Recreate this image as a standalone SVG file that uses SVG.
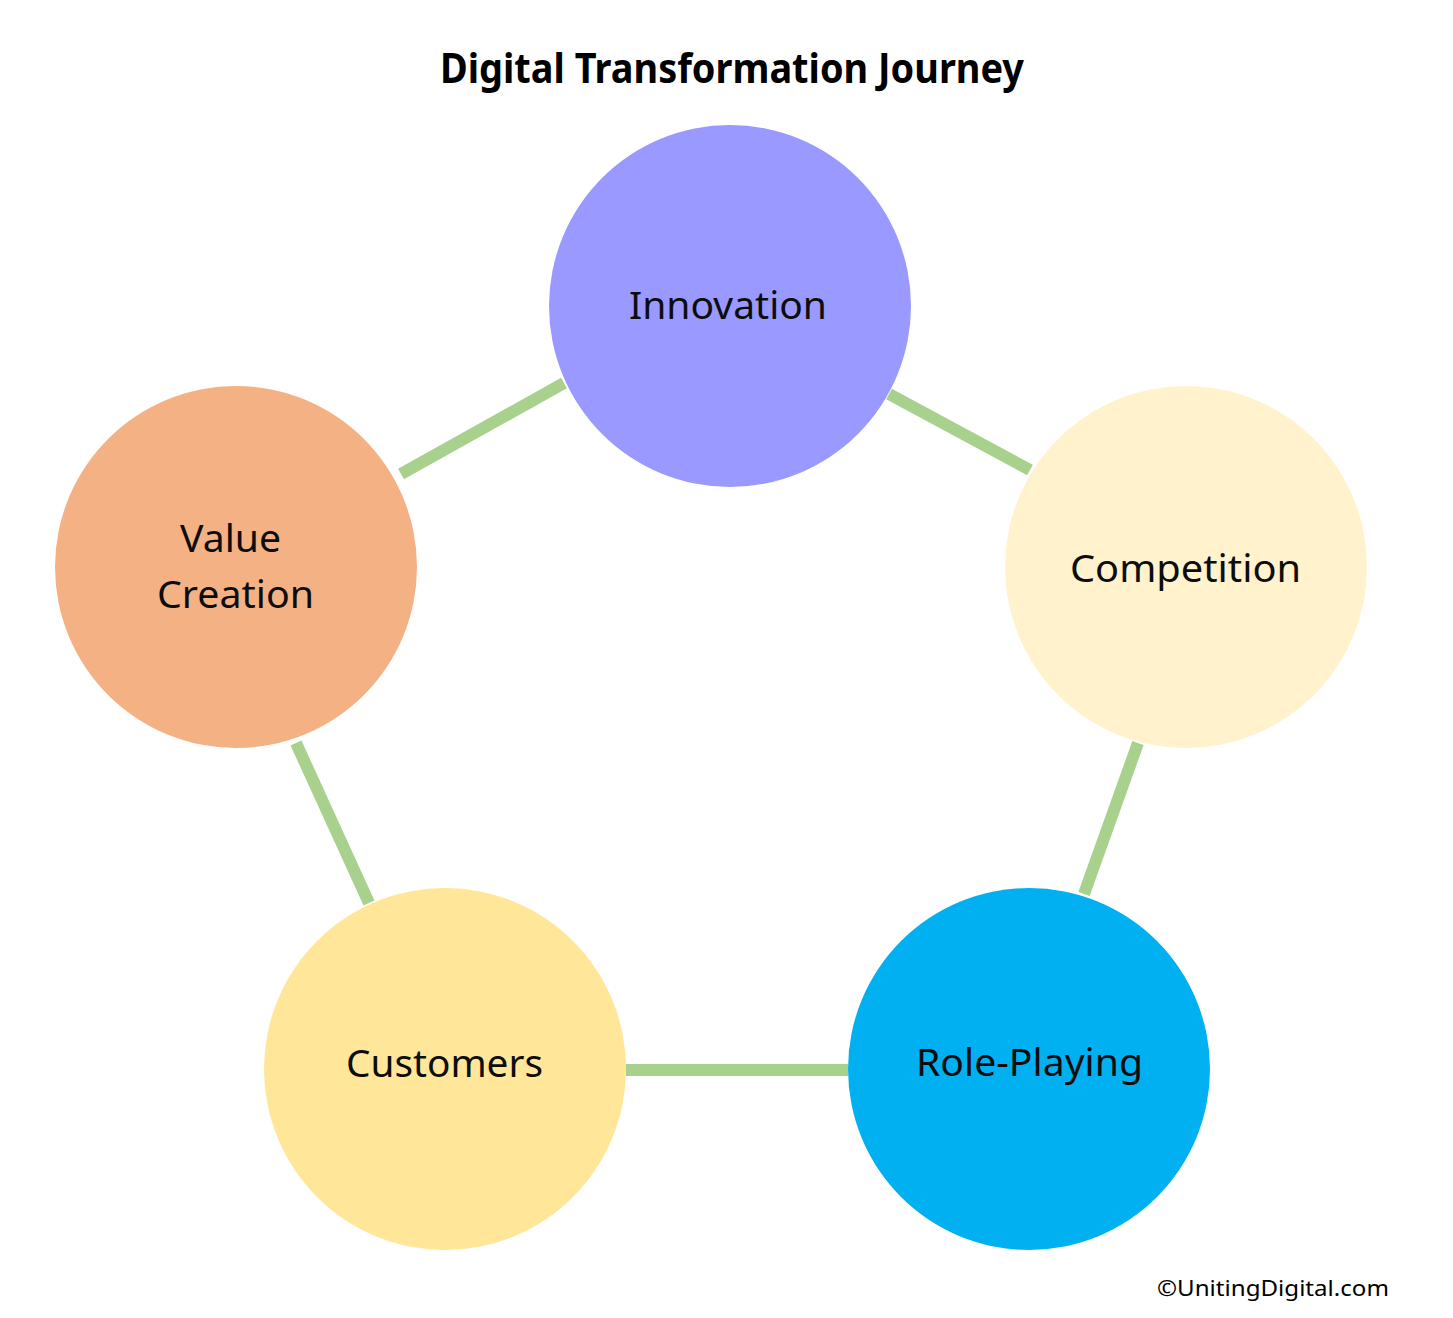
<svg xmlns="http://www.w3.org/2000/svg" width="1453" height="1318" viewBox="0 0 1453 1318">
<style>
.lbl{font-family:"Noto Sans","Open Sans","Liberation Sans",sans-serif;font-size:38px;fill:#0d0d0d;}
.title{font-family:"Noto Sans","Open Sans","Liberation Sans",sans-serif;font-size:42px;font-weight:bold;fill:#000;}
.copy{font-family:"Noto Sans","Open Sans","Liberation Sans",sans-serif;font-size:22px;fill:#000;}
.conn{stroke:#A9D18E;stroke-width:12;fill:none;}
</style>
<rect width="1453" height="1318" fill="#fff"/>
<text class="title" x="440" y="83" textLength="584" lengthAdjust="spacingAndGlyphs">Digital Transformation Journey</text>
<g id="connectors">
<line class="conn" x1="889" y1="394" x2="1030" y2="470"/>
<line class="conn" x1="564" y1="383" x2="401" y2="474"/>
<line class="conn" x1="296" y1="743" x2="369" y2="903"/>
<line class="conn" x1="1138" y1="743" x2="1084" y2="894"/>
<line class="conn" x1="626" y1="1070" x2="848" y2="1070"/>
</g>
<g id="innovation">
<circle cx="730" cy="306" r="181" fill="#9999FF"/>
<text class="lbl" x="629" y="319" textLength="198" lengthAdjust="spacingAndGlyphs">Innovation</text>
</g>
<g id="competition">
<circle cx="1186" cy="567" r="181" fill="#FFF2CC"/>
<text class="lbl" x="1070" y="582" textLength="231" lengthAdjust="spacingAndGlyphs">Competition</text>
</g>
<g id="value-creation">
<circle cx="236" cy="567" r="181" fill="#F4B183"/>
<text class="lbl" x="180" y="552" textLength="101" lengthAdjust="spacingAndGlyphs">Value</text>
<text class="lbl" x="157" y="608" textLength="157" lengthAdjust="spacingAndGlyphs">Creation</text>
</g>
<g id="customers">
<circle cx="445" cy="1069" r="181" fill="#FFE699"/>
<text class="lbl" x="346" y="1077" textLength="197" lengthAdjust="spacingAndGlyphs">Customers</text>
</g>
<g id="role-playing">
<circle cx="1029" cy="1069" r="181" fill="#00B0F0"/>
<text class="lbl" x="916" y="1076" textLength="227" lengthAdjust="spacingAndGlyphs">Role-Playing</text>
</g>
<text class="copy" x="1157" y="1296" textLength="232" lengthAdjust="spacingAndGlyphs">©UnitingDigital.com</text>
</svg>
